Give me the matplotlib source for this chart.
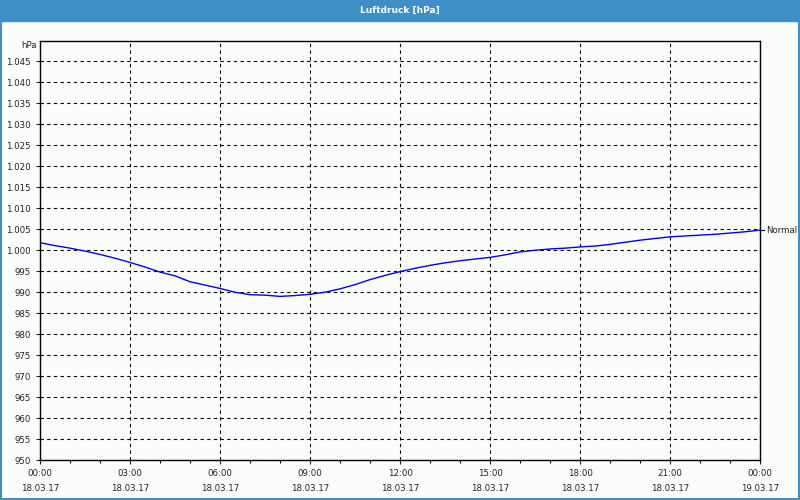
import matplotlib
matplotlib.use("Agg")
import matplotlib.pyplot as plt
from matplotlib.ticker import MultipleLocator

# hours since 18.03.17 00:00 and air pressure (hPa)
hours = [0, 0.5, 1, 1.5, 2, 2.5, 3, 3.5, 4, 4.5, 5, 5.5, 6, 6.5, 7, 7.5, 8, 8.5, 9, 9.5,
         10, 10.5, 11, 11.5, 12, 12.5, 13, 13.5, 14, 14.5, 15, 15.5, 16, 16.5, 17, 17.5,
         18, 18.5, 19, 19.5, 20, 20.5, 21, 21.5, 22, 22.5, 23, 23.5, 24]
pressure = [1001.8, 1001.1, 1000.5, 999.8, 999.0, 998.1, 997.1, 996.0, 994.8, 993.9, 992.5, 991.7, 990.9,
            990.0, 989.4, 989.3, 989.0, 989.2, 989.5, 990.0,
            990.8, 991.8, 993.0, 994.0, 994.9, 995.7, 996.4, 997.0, 997.5, 997.9, 998.3, 998.9,
            999.6, 1000.0, 1000.3, 1000.5, 1000.8, 1001.0, 1001.4, 1001.9, 1002.4, 1002.8,
            1003.2, 1003.4, 1003.6, 1003.8, 1004.1, 1004.4, 1004.8]

x_ticks = [0, 3, 6, 9, 12, 15, 18, 21, 24]
x_labels = ["00:00\n18.03.17", "03:00\n18.03.17", "06:00\n18.03.17", "09:00\n18.03.17",
            "12:00\n18.03.17", "15:00\n18.03.17", "18:00\n18.03.17", "21:00\n18.03.17",
            "00:00\n19.03.17"]
y_ticks = list(range(950, 1050, 5))
y_labels = [f"{v:,}".replace(",", ".") for v in y_ticks]

fs = 6.2
fig = plt.figure(figsize=(8, 5), dpi=100, facecolor="#fbfdfb")

# title bar and blue frame
fig.patches.append(plt.Rectangle((0, 0.959), 1, 0.041, transform=fig.transFigure,
                                 color="#3d8fc6", zorder=0))
fig.patches.append(plt.Rectangle((0.001, 0.002), 0.998, 0.996, transform=fig.transFigure,
                                 fill=False, edgecolor="#3d8fc6", linewidth=1.5, zorder=0))
fig.text(0.5, 0.98, "Luftdruck [hPa]", color="white", fontsize=6.5, fontweight="bold",
         ha="center", va="center")

ax = fig.add_axes([0.05, 0.08, 0.9, 0.839])
ax.set_facecolor("#fbfdfb")
ax.plot(hours, pressure, color="#0000ee", linewidth=1.0)

ax.set_xlim(0, 24)
ax.set_ylim(950, 1050)
ax.set_xticks(x_ticks)
ax.set_xticklabels(x_labels, linespacing=1.9)
ax.xaxis.set_minor_locator(MultipleLocator(1))
ax.set_yticks(y_ticks)
ax.set_yticklabels(y_labels)

ax.grid(True, which="major", color="black", linestyle=(0, (3, 3)), linewidth=0.8)
ax.tick_params(axis="both", which="major", labelsize=fs, colors="#222222", length=3, width=0.8)
ax.tick_params(axis="x", which="minor", length=2, width=0.8)
for side in ax.spines.values():
    side.set_linewidth(1)
    side.set_color("black")

ax.text(-0.12, 1049.8, "hPa", fontsize=fs, color="#222222", ha="right", va="top")
ax.annotate("Normal", xy=(24, pressure[-1]), xytext=(24.22, pressure[-1]),
            fontsize=fs, color="#222222", va="center", ha="left",
            annotation_clip=False)
ax.plot([24, 24.12], [pressure[-1], pressure[-1]], color="black", linewidth=0.8, clip_on=False)

fig.savefig("out.png", dpi=100, facecolor=fig.get_facecolor())
plt.close()
